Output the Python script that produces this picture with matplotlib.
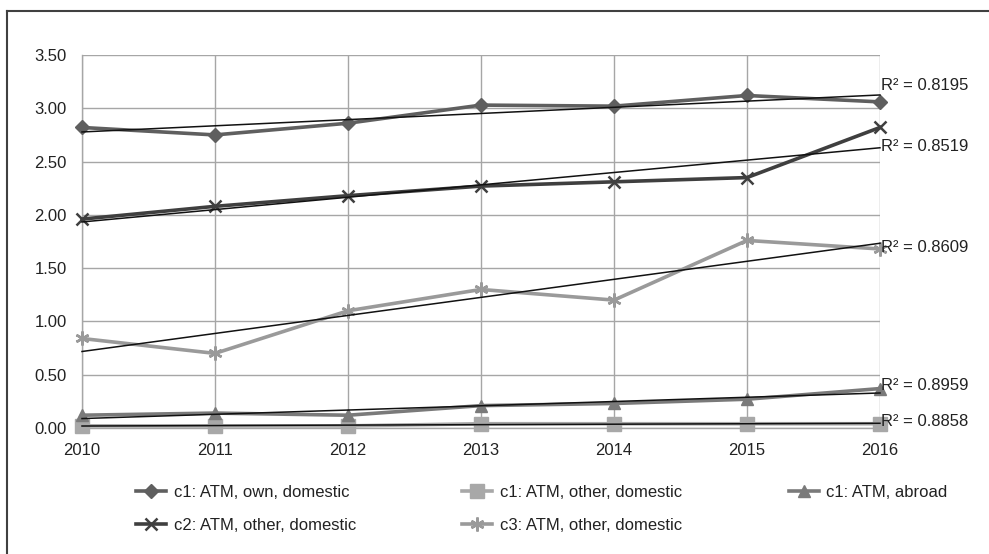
import numpy as np
import matplotlib
matplotlib.use("Agg")
import matplotlib.pyplot as plt
from matplotlib.lines import Line2D

plt.rcParams['font.family'] = ['Liberation Sans', 'DejaVu Sans']

years = [2010, 2011, 2012, 2013, 2014, 2015, 2016]
c1_own_domestic = [2.82, 2.75, 2.86, 3.03, 3.02, 3.12, 3.06]
c1_other_domestic = [0.02, 0.02, 0.02, 0.04, 0.04, 0.04, 0.04]
c1_abroad = [0.12, 0.14, 0.12, 0.21, 0.23, 0.27, 0.37]
c2_other_domestic = [1.96, 2.08, 2.18, 2.27, 2.31, 2.35, 2.82]
c3_other_domestic = [0.84, 0.70, 1.10, 1.30, 1.20, 1.76, 1.68]
r2_labels = ["R² = 0.8195", "R² = 0.8858", "R² = 0.8959", "R² = 0.8519", "R² = 0.8609"]
r2_label_y = [3.21, 0.06, 0.40, 2.64, 1.69]

names = ["c1: ATM, own, domestic", "c1: ATM, other, domestic", "c1: ATM, abroad",
         "c2: ATM, other, domestic", "c3: ATM, other, domestic"]
series = [c1_own_domestic, c1_other_domestic, c1_abroad, c2_other_domestic, c3_other_domestic]
colors = ["#5f5f5f", "#a8a8a8", "#7a7a7a", "#3f3f3f", "#9a9a9a"]
markers = ["D", "s", "^", "x", (6, 2, 0)]
msizes = [7, 10, 8, 9, 10]

W, H = 989, 554
fig = plt.figure(figsize=(W / 100, H / 100), dpi=100)
x0, x1 = 82, 880
y0, y1 = 55, 428
ax = fig.add_axes([x0 / W, 1 - y1 / H, (x1 - x0) / W, (y1 - y0) / H])

ax.set_xlim(2010, 2016)
ax.set_ylim(0, 3.5)
ax.set_xticks(years)
ax.set_yticks(np.arange(0, 3.51, 0.5))
ax.yaxis.set_major_formatter(matplotlib.ticker.FormatStrFormatter('%.2f'))
ax.grid(True, color="#a6a6a6", linewidth=1.0)
ax.set_axisbelow(True)
for s in ["top", "right"]:
    ax.spines[s].set_visible(False)
for s in ["left", "bottom"]:
    ax.spines[s].set_color("#a6a6a6")
    ax.spines[s].set_linewidth(1.0)
ax.tick_params(axis="y", length=0, labelsize=12, colors="#222222", pad=11)
ax.tick_params(axis="x", length=0, labelsize=12, colors="#222222", pad=11)

handles = []
xs = np.array(years, dtype=float)
for vals, name, c, m, ms in zip(series, names, colors, markers, msizes):
    mew = 1.8 if m in ("x", (6, 2, 0)) else 1
    h, = ax.plot(years, vals, color=c, linewidth=2.6, marker=m, markersize=ms,
                 markeredgecolor=c, markerfacecolor=c, markeredgewidth=mew,
                 label=name, clip_on=False, zorder=3)
    handles.append(h)
    k, b = np.polyfit(xs, np.array(vals), 1)
    ax.plot(xs, k * xs + b, color="#111111", linewidth=1.1, zorder=4, clip_on=False)

for lab, yv in zip(r2_labels, r2_label_y):
    ax.text(2016.01, yv, lab, fontsize=12, color="#222222", va="center", ha="left",
            clip_on=False)

order = [0, 3, 1, 4, 2]
leg = fig.legend([handles[i] for i in order], [names[i] for i in order],
                 ncol=3, frameon=False, loc="upper left",
                 bbox_to_anchor=(136 / W, 1 - 485 / H), fontsize=12,
                 handlelength=1.8, handletextpad=0.45, columnspacing=6.4,
                 labelspacing=1.05, borderaxespad=0, borderpad=0)
for t in leg.get_texts():
    t.set_color("#222222")

# outer border (top and left)
fig.add_artist(Line2D([7 / W, 1], [1 - 11 / H, 1 - 11 / H], color="#404040", linewidth=1.5,
                      transform=fig.transFigure))
fig.add_artist(Line2D([7 / W, 7 / W], [1 - 11 / H, 0], color="#404040", linewidth=1.5,
                      transform=fig.transFigure))

fig.savefig("out.png", dpi=100)
